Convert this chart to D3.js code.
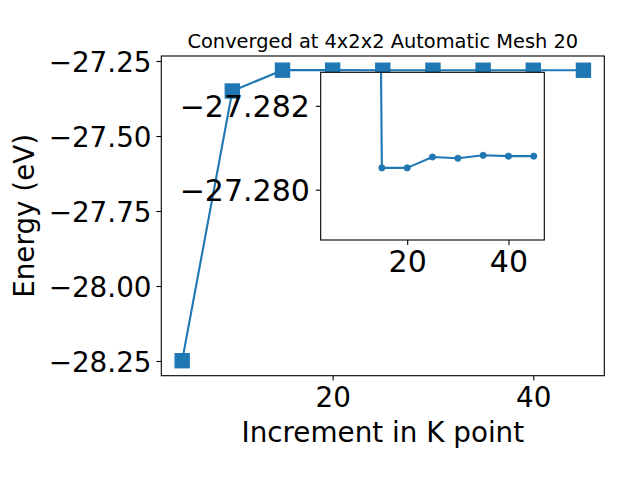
<!DOCTYPE html>
<html>
<head>
<meta charset="utf-8">
<script src="https://cdn.jsdelivr.net/npm/d3@7"></script>
<style>
  html, body { margin: 0; padding: 0; background: #fff; }
  svg { display: block; font-family: "DejaVu Sans", sans-serif; }
</style>
</head>
<body>
<svg id="chart" width="640" height="480"></svg>
<script>
// ---- data ----
const kPoints = [5, 10, 15, 20, 25, 30, 35, 40, 45];
const energy = [-28.249, -27.350, -27.28052, -27.28052, -27.28078, -27.28075, -27.28082, -27.28080, -27.28080];
const mainYTicks = [-27.25, -27.50, -27.75, -28.00, -28.25];
const xTicks = [20, 40];
const insetYTicks = [-27.282, -27.280];
const titleText = "Converged at 4x2x2 Automatic Mesh 20";
const xLabel = "Increment in K point";
const yLabel = "Energy (eV)";

const color = "#1f77b4";
const svg = d3.select("#chart");
const minus = s => s.replace("-", "\u2212");
const tickFont = "27.8px";
const insetFont = "30px";

// ---- main axes ----
const M = { left: 161.3, right: 604.3, top: 56, bottom: 375.7 };
const x = d3.scaleLinear().domain([2.92, 47.08]).range([M.left, M.right]);
const y = d3.scaleLinear().domain([-28.299, -27.2333]).range([M.bottom, M.top]);

const main = svg.append("g");

const xAxis = main.append("g")
  .attr("transform", `translate(0,${M.bottom})`)
  .call(d3.axisBottom(x).tickValues(xTicks).tickSize(4.9).tickPadding(4.9).tickFormat(d3.format("d")));
const yAxis = main.append("g")
  .attr("transform", `translate(${M.left},0)`)
  .call(d3.axisLeft(y).tickValues(mainYTicks).tickSize(4.9).tickPadding(4.9).tickFormat(d => minus(d3.format(".2f")(d))));
[xAxis, yAxis].forEach(a => {
  a.select(".domain").remove();
  a.selectAll(".tick line").attr("stroke", "#000").attr("stroke-width", 1.1);
  a.selectAll(".tick text").attr("fill", "#000").style("font-size", tickFont).style("font-family", "DejaVu Sans");
});
xAxis.selectAll(".tick text").attr("dy", null).attr("y", 0).attr("transform", "translate(0,31)");
yAxis.selectAll(".tick text").attr("dy", "0.36em");

main.append("path")
  .datum(kPoints.map((k, i) => [k, energy[i]]))
  .attr("fill", "none").attr("stroke", color).attr("stroke-width", 2.1)
  .attr("stroke-linejoin", "round")
  .attr("d", d3.line().x(d => x(d[0])).y(d => y(d[1])));

main.selectAll("rect.pt")
  .data(kPoints.map((k, i) => [k, energy[i]]))
  .join("rect").attr("class", "pt")
  .attr("x", d => x(d[0]) - 7).attr("y", d => y(d[1]) - 7)
  .attr("width", 14).attr("height", 14)
  .attr("fill", color).attr("stroke", color).attr("stroke-width", 1.4);

main.append("rect")
  .attr("x", M.left).attr("y", M.top)
  .attr("width", M.right - M.left).attr("height", M.bottom - M.top)
  .attr("fill", "none").attr("stroke", "#000").attr("stroke-width", 1.1);

// title and labels
svg.append("text")
  .attr("x", (M.left + M.right) / 2).attr("y", 47.7)
  .attr("text-anchor", "middle").style("font-size", "19.4px").attr("fill", "#000")
  .text(titleText);
svg.append("text")
  .attr("x", (M.left + M.right) / 2).attr("y", 442)
  .attr("text-anchor", "middle").style("font-size", tickFont).attr("fill", "#000")
  .text(xLabel);
svg.append("text")
  .attr("transform", `translate(34,${(M.top + M.bottom) / 2}) rotate(-90)`)
  .attr("text-anchor", "middle").style("font-size", tickFont).attr("fill", "#000")
  .text(yLabel);

// ---- inset axes ----
const I = { left: 320.7, right: 544.3, top: 72.3, bottom: 240 };
const xi = d3.scaleLinear().domain([2.92, 47.08]).range([I.left, I.right]);
const yi = d3.scaleLinear().domain([-27.2828, -27.2788]).range([I.top, I.bottom]);

const inset = svg.append("g");
inset.append("rect")
  .attr("x", I.left).attr("y", I.top)
  .attr("width", I.right - I.left).attr("height", I.bottom - I.top)
  .attr("fill", "#fff");

svg.append("defs").append("clipPath").attr("id", "insetClip")
  .append("rect").attr("x", I.left).attr("y", I.top)
  .attr("width", I.right - I.left).attr("height", I.bottom - I.top);

const plotI = inset.append("g").attr("clip-path", "url(#insetClip)");
plotI.append("path")
  .datum(kPoints.map((k, i) => [k, energy[i]]))
  .attr("fill", "none").attr("stroke", color).attr("stroke-width", 2.1)
  .attr("stroke-linejoin", "round")
  .attr("d", d3.line().x(d => xi(d[0])).y(d => yi(d[1])));
plotI.selectAll("circle")
  .data(kPoints.map((k, i) => [k, energy[i]]))
  .join("circle")
  .attr("cx", d => xi(d[0])).attr("cy", d => yi(d[1]))
  .attr("r", 3.1).attr("fill", color).attr("stroke", color).attr("stroke-width", 0.9);

const xiAxis = inset.append("g")
  .attr("transform", `translate(0,${I.bottom})`)
  .call(d3.axisBottom(xi).tickValues(xTicks).tickSize(4.9).tickPadding(4.9).tickFormat(d3.format("d")));
const yiAxis = inset.append("g")
  .attr("transform", `translate(${I.left},0)`)
  .call(d3.axisLeft(yi).tickValues(insetYTicks).tickSize(4.9).tickPadding(6).tickFormat(d => minus(d3.format(".3f")(d))));
[xiAxis, yiAxis].forEach(a => {
  a.select(".domain").remove();
  a.selectAll(".tick line").attr("stroke", "#000").attr("stroke-width", 1.1);
  a.selectAll(".tick text").attr("fill", "#000").style("font-size", insetFont).style("font-family", "DejaVu Sans");
});
xiAxis.selectAll(".tick text").attr("dy", null).attr("y", 0).attr("transform", "translate(0,32.3)");
yiAxis.selectAll(".tick text").attr("dy", "0.36em");

inset.append("rect")
  .attr("x", I.left).attr("y", I.top)
  .attr("width", I.right - I.left).attr("height", I.bottom - I.top)
  .attr("fill", "none").attr("stroke", "#000").attr("stroke-width", 1.1);
</script>
</body>
</html>
